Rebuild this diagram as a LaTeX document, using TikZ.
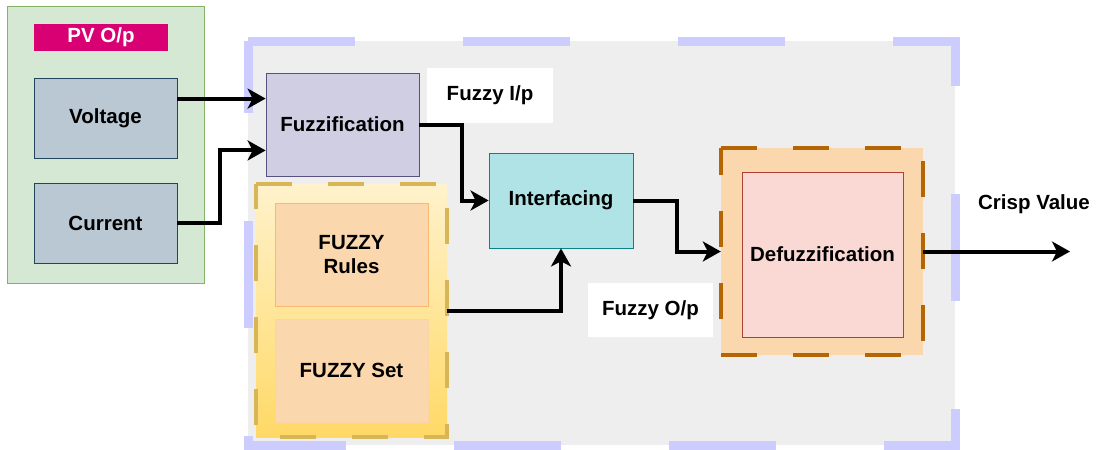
\documentclass[tikz,border=0pt]{standalone}
\usepackage{fontspec}
\setmainfont{Liberation Sans}
\usetikzlibrary{arrows.meta,calc}
\definecolor{greenfill}{HTML}{D5E8D4}
\definecolor{greenline}{HTML}{82B366}
\definecolor{magenta}{HTML}{D80073}
\definecolor{bluefill}{HTML}{BAC8D3}
\definecolor{blueline}{HTML}{23445D}
\definecolor{grayfill}{HTML}{EEEEEE}
\definecolor{lavline}{HTML}{CCCCFF}
\definecolor{purfill}{HTML}{D0CEE2}
\definecolor{purline}{HTML}{56517E}
\definecolor{cyanfill}{HTML}{B0E3E6}
\definecolor{cyanline}{HTML}{0E8088}
\definecolor{yeltop}{HTML}{FFF2CC}
\definecolor{yelbot}{HTML}{FFD966}
\definecolor{yelline}{HTML}{D6B656}
\definecolor{orfill}{HTML}{FAD7AC}
\definecolor{orline}{HTML}{FAB870}
\definecolor{brline}{HTML}{B46504}
\definecolor{pinkfill}{HTML}{FAD9D5}
\definecolor{pinkline}{HTML}{AE4132}
\tikzset{
  box/.style={rectangle, inner sep=0pt, align=center, text=black,
    font=\bfseries\fontsize{20.5}{24.5}\selectfont},
  arr/.style={line width=4pt, -{Stealth[length=18pt,width=20pt,inset=5pt]}},
  dashyel/.style={draw=yelline, line width=4pt, dash pattern=on 36pt off 36pt},
  dashbr/.style={draw=brline, line width=4pt, dash pattern=on 36pt off 36pt},
}
\begin{document}
\begin{tikzpicture}[x=1pt,y=-1pt]
\useasboundingbox (0,0) rectangle (1104,450);
% main panel
\fill[grayfill] (248,41) rectangle (955,445);
\draw[lavline, line width=9pt, dash pattern=on 107pt off 108pt]
  (248,41) -- (955,41) -- (955,445) -- (248,445) -- cycle;
% PV group
\node[box, fill=greenfill, draw=greenline, line width=0.8pt,
  minimum width=197pt, minimum height=277pt] (pvg) at (105.5,144.5) {};
\node[box, fill=magenta, text=white, minimum width=134pt, minimum height=27pt] (pv) at (101,37.5) {PV O/p};
\node[box, fill=bluefill, draw=blueline, line width=0.8pt,
  minimum width=143pt, minimum height=80pt] (volt) at (105.5,118) {Voltage};
\node[box, fill=bluefill, draw=blueline, line width=0.8pt,
  minimum width=143pt, minimum height=80pt] (curr) at (105.5,223) {Current};
% fuzzification
\node[box, fill=purfill, draw=purline, line width=0.8pt,
  minimum width=153pt, minimum height=103pt] (fuzz) at (342.5,124.5) {Fuzzification};
\node[box, fill=white, minimum width=126pt, minimum height=55pt] (fip) at (490,95.5) {Fuzzy I/p};
% interfacing
\node[box, fill=cyanfill, draw=cyanline, line width=0.8pt,
  minimum width=144pt, minimum height=95pt] (intf) at (561,200.5) {Interfacing};
% fuzzy group
\node[box, top color=yeltop, bottom color=yelbot,
  minimum width=191pt, minimum height=253pt] (grp) at (351.5,310.5) {};
\draw[dashyel] (grp.north west) -- (grp.north east) -- (grp.south east) -- (grp.south west) -- cycle;
\node[box, fill=orfill, draw=orline, line width=0.8pt,
  minimum width=153pt, minimum height=103pt] (rules) at (351.5,254.5) {FUZZY\\Rules};
\node[box, fill=orfill, draw=orfill!90!orline, line width=0.8pt,
  minimum width=153pt, minimum height=103pt] (fset) at (351.5,370.5) {FUZZY Set};
% defuzzification
\node[box, fill=orfill, minimum width=202pt, minimum height=207pt] (dfo) at (822,251.5) {};
\draw[dashbr] (dfo.north west) -- (dfo.north east) -- (dfo.south east) -- (dfo.south west) -- cycle;
\node[box, fill=pinkfill, draw=pinkline, line width=0.8pt,
  minimum width=161pt, minimum height=165pt] (dfi) at (822.5,254.5) {Defuzzification};
\node[box, fill=white, minimum width=125pt, minimum height=54pt] (fop) at (650.5,310) {Fuzzy O/p};
\node[box] (crisp) at (1034,204) {Crisp Value};
% connectors
\coordinate (fa) at ($(fuzz.north west)!0.25!(fuzz.south west)$);
\coordinate (fb) at ($(fuzz.north west)!0.75!(fuzz.south west)$);
\coordinate (crispend) at (1070,251.5);
\draw[arr] (volt.east |- fa) -- (fa);
\draw[arr] (curr.east) -- ++(43,0) |- (fb);
\draw[arr] (fuzz.east) -- ++(43,0) |- (intf.west);
\draw[arr] (grp.east) -| (intf.south);
\draw[arr] (intf.east) -- ++(44,0) |- (dfo.west);
\draw[arr] (dfo.east) -- (crispend);
\end{tikzpicture}
\end{document}
